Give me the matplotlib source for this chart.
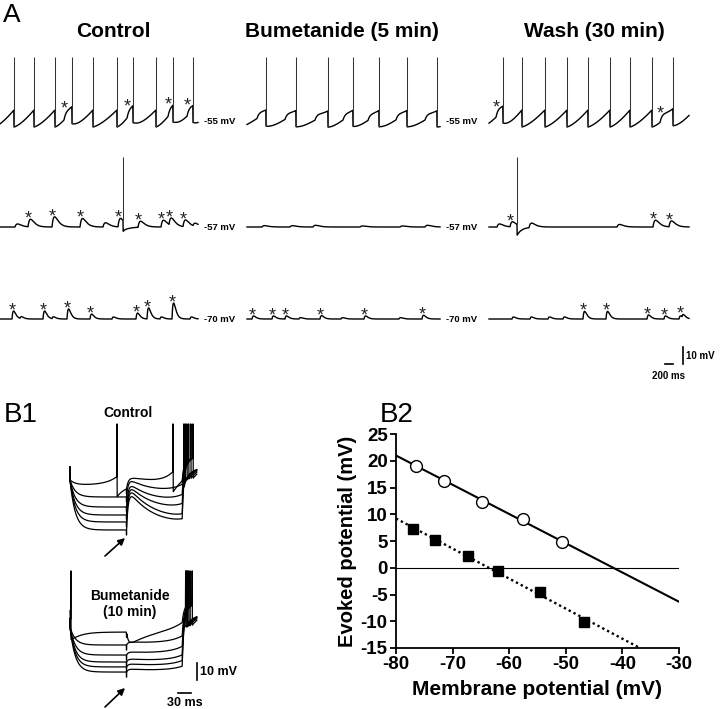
import numpy as np
import matplotlib.pyplot as plt

plt.rcParams['font.family'] = ['Liberation Sans', 'DejaVu Sans']
plt.rcParams['axes.unicode_minus'] = False

W, H = 720, 709

# ---------------- panel A (times in ms from trace start, voltages in mV) ----------------
conditions = ['Control', 'Bumetanide (5 min)', 'Wash (30 min)']
holding = [-55, -57, -70]
trace_len = [4950, 4825, 5000]

spikes_55 = [
    [350, 850, 1375, 1800, 2325, 2925, 3325, 3900, 4325, 4825],
    [475, 1225, 2025, 2650, 3300, 4000, 4750],
    [350, 825, 1400, 1950, 2475, 3025, 3525, 4075, 4600],
]
v_trough_55 = [-57.9, -58.5, -57.9]
v_thresh_55 = [-47.9, -49.0, -47.9]
v_peak_55 = [-16.8, -16.5, -16.8]
psp_t_55 = [[1600, 3175, 4200, 4675],
            [250, 950, 1700, 2400, 3025, 3725, 4450],
            [175, 4275]]
psp_a_55 = [[3.0, 3.0, 3.0, 3.0],
            [2.0, 2.0, 2.0, 2.0, 2.0, 2.0, 2.0],
            [3.0, 3.0]]
stars_55 = [[1600, 3175, 4200, 4675], [], [175, 4275]]

psp_t_57 = [[375, 700, 1300, 2000, 2575, 2950, 3450, 4025, 4225, 4575, 4825],
            [375, 1075, 1650, 2825, 3825, 4450],
            [200, 525, 1000, 3200, 4100, 4500]]
psp_a_57 = [[1.8, 4.5, 6.0, 5.0, 2.5, 5.0, 3.5, 4.0, 4.5, 4.0, 1.8],
            [0.8, 0.8, 1.0, 0.6, 0.6, 1.0],
            [1.8, 3.0, 2.5, 1.5, 4.0, 3.5]]
spike_57 = [3075, None, 700]
stars_57 = [[700, 1300, 2000, 2950, 3450, 4025, 4225, 4575], [], [525, 4100, 4500]]

psp_t_70 = [[300, 500, 1075, 1300, 1675, 2250, 2800, 3400, 3675, 4000, 4300, 4750],
            [125, 625, 950, 1300, 1825, 2350, 2925, 3800, 4375],
            [575, 1025, 1475, 1850, 2350, 2925, 3950, 4375, 4750, 4825]]
psp_a_70 = [[4.7, 1.2, 4.7, 1.2, 5.9, 2.9, 1.2, 3.5, 6.5, 1.2, 9.4, 1.2],
            [1.8, 1.8, 1.8, 0.8, 2.0, 0.8, 1.8, 0.8, 2.2],
            [1.2, 1.2, 1.2, 1.2, 4.5, 4.5, 2.4, 1.8, 1.8, 1.8]]
stars_70 = [[300, 1075, 1675, 2250, 3400, 3675, 4300],
            [125, 625, 950, 1825, 2925, 4375],
            [2350, 2925, 3950, 4375, 4790]]

# ---------------- panel B1 (step responses, mV relative to rest) ----------------
ctl_pre = [-3.0, -10.0, -15.9, -20.6, -24.7, -29.4]
ctl_peak = [2.0, -1.2, -4.1, -5.9, -7.6, -10.0]
ctl_end = [-3.0, -7.6, -13.5, -18.8, -24.7, -27.6]
ctl_rebound = [262, 265, 269, 273, 278, 283]
ctl_spikes = [[108, 237], [], [], [], [], []]
bum_pre = [-3.0, -10.6, -16.5, -20.6, -23.5, -26.5]
bum_peak = [-9.4, -9.1, -15.0, -19.1, -22.0, -25.0]
bum_end = [0.0, -8.8, -14.7, -19.4, -22.4, -25.3]
bum_rebound = [266, 268, 270, 273, 276, 281]
bum_spikes = [[2], [], [], [], [], []]

# ---------------- panel B2 ----------------
vm_ctl = [-76.4, -71.5, -64.8, -57.5, -50.7]
ep_ctl = [19.1, 16.3, 12.35, 9.1, 4.8]
vm_bum = [-77.0, -73.1, -67.2, -62.0, -54.5, -46.7]
ep_bum = [7.2, 5.2, 2.2, -0.56, -4.6, -10.1]


fig = plt.figure(figsize=(7.2, 7.09), dpi=100)


def px_axes(x0, y0, x1, y1):
    return fig.add_axes([x0 / W, 1 - y1 / H, (x1 - x0) / W, (y1 - y0) / H])


def ftext(x, y, s, **kw):
    fig.text(x / W, 1 - y / H, s, **kw)


def add_psp(t, v, times, amps, tau):
    for t0, a in zip(times, amps):
        d = np.clip(t - t0, 0, None) / tau
        v += a * d * np.exp(1 - d)


def firing_trace(t, spikes, lo, hi):
    sp = np.asarray(spikes, float)
    isi = np.diff(sp).mean()
    edges = np.r_[sp[0] - isi, sp, sp[-1] + isi]
    k = np.searchsorted(edges, t, side='right') - 1
    frac = (t - edges[k]) / (edges[k + 1] - edges[k])
    return lo + (hi - lo) * frac ** 1.4


# ---- panel A ----
MV_PX, MS_PX, TOP = 1.7, 25.0, -6.8
axA = px_axes(0, 40, 720, 385)
axA.set_xlim(0, 720 * MS_PX)
axA.set_ylim(TOP - 345 / MV_PX, TOP)
axA.axis('off')


def ax_y(py):
    return TOP - (py - 40) / MV_PX


row_y = [122, 227, 319]
col_x = [0, 247, 489]
lab_x = [204, 446, None]
row_off = [ax_y(py) - h for py, h in zip(row_y, holding)]

for c in range(3):
    t = np.arange(0, trace_len[c] + 1, 5.0)
    x0 = col_x[c] * MS_PX
    rows = []
    # -55 mV: repetitive firing
    v = firing_trace(t, spikes_55[c], v_trough_55[c], v_thresh_55[c])
    add_psp(t, v, psp_t_55[c], psp_a_55[c], 90)
    rows.append((v, spikes_55[c], v_peak_55[c], stars_55[c]))
    # -57 mV
    v = np.full_like(t, -57.0)
    add_psp(t, v, psp_t_57[c], psp_a_57[c], 65)
    sp57 = []
    if spike_57[c] is not None:
        ts = spike_57[c]
        v -= np.where(t > ts, 6.5 * np.exp(-np.clip(t - ts, 0, None) / 110), 0)
        sp57 = [ts]
    rows.append((v, sp57, -16.0, stars_57[c]))
    # -70 mV
    v = np.full_like(t, -70.0)
    add_psp(t, v, psp_t_70[c], psp_a_70[c], 40)
    rows.append((v, [], None, stars_70[c]))

    for r, (v, sps, vpk, stars) in enumerate(rows):
        axA.plot(t + x0, v + row_off[r], color='black', lw=1.0)
        if sps:
            idx = np.searchsorted(t, sps)
            lo = np.minimum(v[idx], v[idx - 1])
            axA.vlines(np.asarray(sps) + x0, lo + row_off[r], vpk + row_off[r],
                       color='#333333', lw=0.75)
        for st in stars:
            win = (t > st - 60) & (t < st + 120)
            pk = v[win].max() + row_off[r]
            axA.text(st + x0, pk - 2.6, '*', fontsize=13,
                     ha='center', va='baseline', color='#222222')
        if lab_x[c] is not None:
            axA.text(lab_x[c] * MS_PX, holding[r] + row_off[r], '%d mV' % holding[r],
                     fontsize=6.8, fontweight='bold', ha='left', va='center')

# A scale bars
axA.plot([665 * MS_PX, 673 * MS_PX], [ax_y(364), ax_y(364)], color='black', lw=1.2)
axA.plot([683 * MS_PX, 683 * MS_PX], [ax_y(364), ax_y(364) + 10], color='black', lw=1.2)
axA.text(686 * MS_PX, ax_y(356), '10 mV', fontsize=7, fontweight='bold', va='center')
axA.text(669 * MS_PX, ax_y(376), '200 ms', fontsize=7, fontweight='bold',
         ha='center', va='center')

ftext(3, 22, 'A', fontsize=19)
for name, cx in zip(conditions, [113, 342, 594]):
    ftext(cx, 37, name, fontsize=15, fontweight='bold', ha='center', va='baseline')

# ---- panel B1 ----
T_STIM, T_OFF, T_END = 130, 258, 292


def step_trace(pre, peak, end, rebound, spikes, onset):
    t = np.arange(0, T_END, 0.5)
    v = pre * (1 - np.exp(-t / 12))
    d = t - T_STIM
    post = d >= 0
    k = np.exp(-d[post] / 60) - np.exp(-d[post] / 4)
    k /= k.max()
    v[post] = pre + (end - pre) * d[post] / (T_OFF - T_STIM) + (peak - pre) * k
    off = t >= T_OFF
    v_off = v[off][0]
    v[off] = v_off + (8 - v_off) * (1 - np.exp(-(t[off] - T_OFF) / 4))
    v[0] = onset
    v[np.searchsorted(t, T_STIM)] -= 3
    all_sp = list(spikes) + [rebound]
    for ts in all_sp:
        before = t < ts
        v[before] += 5 * np.exp((t[before] - ts) / 25)
        after = t > ts
        v[after] -= 7 * np.exp(-(t[after] - ts) / 20)
    for ts in all_sp:
        v[np.searchsorted(t, ts)] = 33
    return t, v


axB1 = px_axes(60, 405, 215, 709)
axB1.set_xlim((60 - 70) * 2.3, (215 - 70) * 2.3)
axB1.set_ylim((480 - 709) / MV_PX, (480 - 405) / MV_PX)
axB1.axis('off')


def b1x(px):
    return (px - 70) * 2.3


def b1y(py):
    return (480 - py) / MV_PX


groups = [(ctl_pre, ctl_peak, ctl_end, ctl_rebound, ctl_spikes, 0.0, 7.6),
          (bum_pre, bum_peak, bum_end, bum_rebound, bum_spikes, b1y(627), 5.0)]
for pre, peak, end, reb, sps, off, onset in groups:
    for i in range(len(pre)):
        t, v = step_trace(pre[i], peak[i], end[i], reb[i], sps[i], onset)
        axB1.plot(t, v + off, color='black', lw=0.9)

axB1.text(b1x(128), b1y(413), 'Control', fontsize=10, fontweight='bold',
          ha='center', va='center')
axB1.text(b1x(130), b1y(604), 'Bumetanide\n(10 min)', fontsize=10, fontweight='bold',
          ha='center', va='center', linespacing=1.1)
for tail, head in [((105, 556), (125, 538)), ((105, 707), (125, 688))]:
    axB1.annotate('', xy=(b1x(head[0]), b1y(head[1])), xytext=(b1x(tail[0]), b1y(tail[1])),
                  arrowprops=dict(arrowstyle='-|>', color='black', lw=1.2,
                                  mutation_scale=10, shrinkA=0, shrinkB=0),
                  annotation_clip=False)
axB1.plot([b1x(178), b1x(191)], [b1y(693), b1y(693)], color='black', lw=1.2, clip_on=False)
axB1.plot([b1x(197), b1x(197)], [b1y(680), b1y(680) + 10], color='black', lw=1.2, clip_on=False)
axB1.text(b1x(200), b1y(672), '10 mV', fontsize=9, fontweight='bold', va='center')
axB1.text(b1x(185), b1y(703), '30 ms', fontsize=9, fontweight='bold',
          ha='center', va='center')

ftext(4, 422, 'B1', fontsize=20)
ftext(380, 422, 'B2', fontsize=20)

# ---- panel B2 ----
ax2 = px_axes(396, 434, 679, 648)
ax2.set_xlim(-80, -30)
ax2.set_ylim(-15, 25)
ax2.axhline(0, color='black', lw=0.8)
xx = np.array([-80.0, -30.0])
m1, c1 = np.polyfit(vm_ctl, ep_ctl, 1)
m2, c2 = np.polyfit(vm_bum, ep_bum, 1)
ax2.plot(xx, m1 * xx + c1, color='black', lw=1.5)
ax2.plot(xx, m2 * xx + c2, color='black', lw=1.7, ls=(0, (1, 1.3)))
ax2.plot(vm_ctl, ep_ctl, 'o', mfc='white', mec='black', ms=8.5, mew=1.0, zorder=3)
ax2.plot(vm_bum, ep_bum, 's', color='black', ms=7.5, zorder=3)
for s in ['top', 'right']:
    ax2.spines[s].set_visible(False)
for s in ['left', 'bottom']:
    ax2.spines[s].set_linewidth(1.3)
ax2.set_xticks(range(-80, -29, 10))
ax2.set_yticks(range(-15, 26, 5))
ax2.tick_params(direction='out', length=4, width=1.3, labelsize=13.5, pad=2)
for lbl in ax2.get_xticklabels() + ax2.get_yticklabels():
    lbl.set_fontweight('bold')
ax2.set_xlabel('Membrane potential (mV)', fontsize=15, fontweight='bold', labelpad=5)
ax2.set_ylabel('Evoked potential (mV)', fontsize=14.5, fontweight='bold', labelpad=3)

fig.savefig('out.png', dpi=100)
